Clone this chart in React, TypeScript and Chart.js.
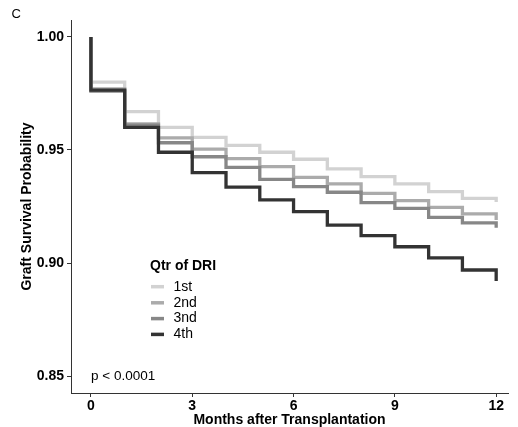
import React, { useEffect, useRef } from "react";
import { Chart, registerables } from "chart.js";

Chart.register(...registerables);

const months = [0, 1, 2, 3, 4, 5, 6, 7, 8, 9, 10, 11, 12];
const seriesLabels = ["1st", "2nd", "3nd", "4th"];
const seriesColors = ["#d2d2d2", "#ababab", "#878787", "#333333"];
const q1 = [0.98, 0.967, 0.96, 0.9556, 0.952, 0.949, 0.9459, 0.9416, 0.9382, 0.935, 0.9316, 0.9286, 0.927];
const q2 = [0.977, 0.9615, 0.9554, 0.9504, 0.9462, 0.9426, 0.9379, 0.935, 0.9308, 0.9276, 0.9246, 0.9217, 0.919];
const q3 = [0.976, 0.961, 0.9532, 0.947, 0.9423, 0.937, 0.9338, 0.9313, 0.9267, 0.9242, 0.9202, 0.9178, 0.9156];
const q4 = [0.9765, 0.96, 0.949, 0.94, 0.9336, 0.9279, 0.9227, 0.9168, 0.9121, 0.9072, 0.9023, 0.8969, 0.892];
const startValue = 1.0;
const xTicks = [0, 3, 6, 9, 12];
const yTicks = [0.85, 0.9, 0.95, 1.0];
const pValueText = "p < 0.0001";
const panelLabel = "C";
const legendTitle = "Qtr of DRI";
const xTitle = "Months after Transplantation";
const yTitle = "Graft Survival Probability";

const FONT = "'Liberation Sans', Arial, sans-serif";

export default function App() {
  const ref = useRef<HTMLCanvasElement | null>(null);
  useEffect(() => {
    if (!ref.current) return;
    const all = [q1, q2, q3, q4];
    const datasets = all.map((vals, i) => ({
      label: seriesLabels[i],
      data: [{ x: 0, y: startValue }, ...months.map((m, j) => ({ x: m, y: vals[j] }))],
      borderColor: seriesColors[i],
      backgroundColor: seriesColors[i],
      borderWidth: 3.3,
      pointRadius: 0,
      stepped: true as const,
      fill: false,
      order: all.length - 1 - i,
      borderCapStyle: "butt" as const,
      borderJoinStyle: "miter" as const,
    }));

    const overlay = {
      id: "overlay",
      afterDraw(chart: any) {
        const ctx = chart.ctx;
        const area = chart.chartArea;
        ctx.save();
        ctx.fillStyle = "#000";
        ctx.textBaseline = "middle";
        ctx.textAlign = "left";
        ctx.font = `13px ${FONT}`;
        ctx.fillText(panelLabel, 11.5, 14.5);
        // axis titles
        ctx.font = `bold 14px ${FONT}`;
        ctx.textAlign = "center";
        ctx.fillText(xTitle, (area.left + area.right) / 2, 420.5);
        ctx.save();
        ctx.translate(27, (area.top + area.bottom) / 2);
        ctx.rotate(-Math.PI / 2);
        ctx.fillText(yTitle, 0, 0);
        ctx.restore();
        // legend
        ctx.textAlign = "left";
        ctx.font = `bold 14px ${FONT}`;
        ctx.fillText(legendTitle, 150, 266.5);
        const ys = [286.7, 302.8, 318.6, 334.4];
        ctx.font = `14px ${FONT}`;
        seriesLabels.forEach((lab, i) => {
          ctx.strokeStyle = seriesColors[i];
          ctx.lineWidth = 3.5;
          ctx.beginPath();
          ctx.moveTo(151, ys[i]);
          ctx.lineTo(164, ys[i]);
          ctx.stroke();
          ctx.fillStyle = "#000";
          ctx.fillText(lab, 173.5, ys[i]);
        });
        ctx.font = `13.5px ${FONT}`;
        ctx.fillText(pValueText, 91, 376.5);
        ctx.restore();
      },
    };

    const chart = new Chart(ref.current, {
      type: "line",
      data: { datasets: datasets as any },
      options: {
        animation: false,
        responsive: false,
        maintainAspectRatio: false,
        layout: { padding: { left: 0, top: 20, right: 10, bottom: 0 } },
        plugins: { legend: { display: false }, tooltip: { enabled: false } },
        scales: {
          x: {
            type: "linear",
            min: -0.59,
            max: 12.35,
            afterBuildTicks: (scale: any) => {
              scale.ticks = xTicks.map((v) => ({ value: v }));
            },
            afterFit: (scale: any) => {
              scale.height = 34;
            },
            ticks: {
              color: "#000",
              font: { family: FONT, size: 14, weight: "bold" },
              padding: 1,
              maxRotation: 0,
              callback: (v: any) => String(v),
            },
            grid: { display: true, drawOnChartArea: false, drawTicks: true, tickLength: 4, color: "#333" },
            border: { display: true, color: "#333", width: 1 },
          },
          y: {
            type: "linear",
            min: 0.8425,
            max: 1.0075,
            afterBuildTicks: (scale: any) => {
              scale.ticks = yTicks.map((v) => ({ value: v }));
            },
            afterFit: (scale: any) => {
              scale.width = 71;
            },
            ticks: {
              color: "#000",
              font: { family: FONT, size: 14, weight: "bold" },
              padding: 3,
              callback: (v: any) => Number(v).toFixed(2),
            },
            grid: { display: true, drawOnChartArea: false, drawTicks: true, tickLength: 4, color: "#333" },
            border: { display: true, color: "#333", width: 1 },
          },
        },
      },
      plugins: [overlay],
    });
    return () => chart.destroy();
  }, []);

  return (
    <div style={{ position: "fixed", left: 0, top: 0, width: 518, height: 427, background: "#fff" }}>
      <canvas ref={ref} width={518} height={427} style={{ display: "block" }} />
    </div>
  );
}
